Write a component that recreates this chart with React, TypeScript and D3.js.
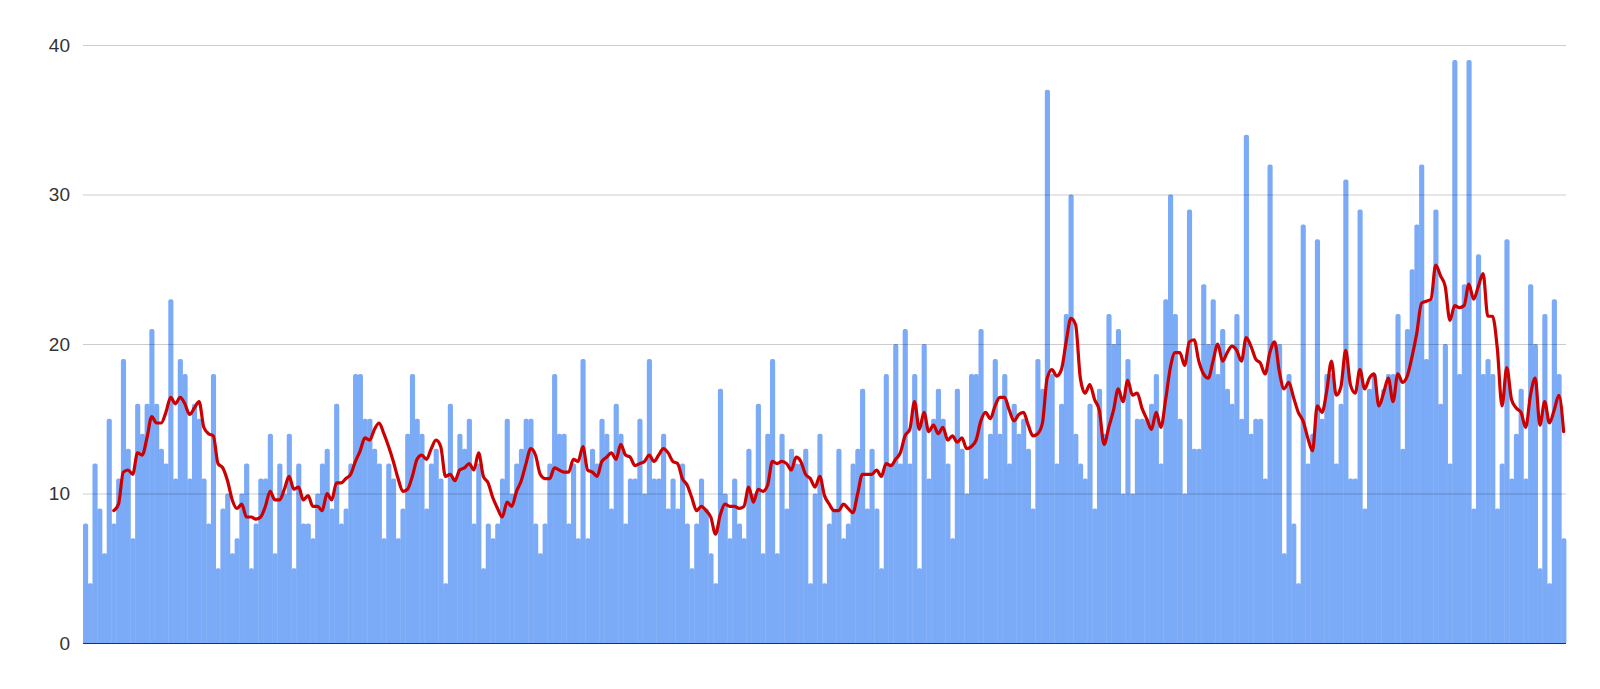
import { useEffect, useRef } from "react";
import * as d3 from "d3";

// daily values left to right
const dailyCounts = [
  8, 4, 12, 9, 6, 15, 8, 11, 19, 13, 7, 16, 14, 16, 21, 16, 13, 12, 23, 11,
  19, 18, 11, 16, 15, 11, 8, 18, 5, 9, 10, 6, 7, 10, 12, 5, 8, 11, 11, 14,
  6, 12, 10, 14, 5, 12, 8, 8, 7, 10, 12, 13, 9, 16, 8, 9, 12, 18, 18, 15,
  15, 13, 12, 7, 12, 11, 7, 9, 14, 18, 15, 14, 9, 12, 13, 11, 4, 16, 11,
  14, 13, 15, 8, 12, 5, 8, 7, 8, 11, 15, 10, 12, 13, 15, 15, 8, 6, 8, 12,
  18, 14, 14, 8, 12, 7, 19, 7, 13, 12, 15, 14, 9, 16, 14, 8, 11, 11, 15,
  10, 19, 11, 11, 14, 9, 11, 9, 12, 8, 5, 8, 11, 9, 6, 4, 17, 10, 7, 11,
  8, 7, 13, 10, 16, 6, 14, 19, 6, 14, 9, 13, 12, 12, 13, 4, 10, 14, 4,
  8, 9, 13, 7, 8, 12, 13, 17, 9, 13, 9, 5, 18, 12, 20, 12, 21, 12, 18, 5,
  20, 11, 15, 17, 15, 12, 7, 17, 13, 10, 18, 18, 21, 11, 14, 19, 14, 18, 12,
  16, 14, 15, 13, 9, 19, 17, 37, 18, 12, 16, 22, 30, 14, 12, 11, 16, 9, 17, 14,
  22, 20, 21, 10, 19, 10, 15, 15, 15, 16, 18, 12, 23, 30, 22, 15, 10, 29,
  13, 13, 24, 20, 23, 18, 21, 17, 16, 22, 15, 34, 14, 15, 15, 11, 32, 20, 20, 6,
  18, 8, 4, 28, 12, 14, 27, 15, 18, 18, 12, 16, 31, 11, 11, 29, 9, 17, 18,
  16, 17, 18, 18, 22, 13, 21, 25, 28, 32, 19, 23, 29, 16, 20, 12, 39, 18, 24, 39,
  9, 26, 18, 19, 18, 9, 12, 27, 11, 14, 17, 11, 24, 20, 5, 22, 4, 23, 18, 7,
];
const days = dailyCounts.map((_, i) => i);
const yTicks = [0, 10, 20, 30, 40];
const trendPeriod = 7; // moving average trendline

const width = 1600;
const height = 689;
const margin = { top: 45, right: 34, bottom: 46, left: 83 };

function GridAxis({ scale, innerWidth }) {
  const ref = useRef(null);

  useEffect(() => {
    if (!ref.current) return;
    const g = d3.select(ref.current);
    g.call(
      d3.axisLeft(scale).tickValues(yTicks).tickSize(-innerWidth).tickPadding(13)
    );
    g.select(".domain").remove();
    g.selectAll(".tick line")
      .attr("stroke", "#000")
      .attr("stroke-opacity", (d) => (d === 0 ? 0 : 0.2));
    g.selectAll(".tick text")
      .attr("fill", "#333")
      .attr("font-size", 19)
      .attr("font-family", "'Liberation Sans', Arial, sans-serif");
  }, [scale, innerWidth]);

  return <g ref={ref} />;
}

function barPath(x, w, top, base) {
  const r = Math.min(2, w / 2, base - top);
  return `M${x},${base}V${top + r}Q${x},${top} ${x + r},${top}H${x + w - r}Q${x + w},${top} ${x + w},${top + r}V${base}Z`;
}

export default function App() {
  const innerWidth = width - margin.left - margin.right;
  const innerHeight = height - margin.top - margin.bottom;

  const x = d3.scaleBand().domain(days).range([0, innerWidth]).padding(0);
  const y = d3.scaleLinear().domain([0, 40]).range([innerHeight, 0]);
  const bw = x.bandwidth();

  const trend = days
    .filter((i) => i >= trendPeriod - 1)
    .map((i) => ({
      day: i,
      value: d3.mean(dailyCounts.slice(i - trendPeriod + 1, i + 1)),
    }));

  const line = d3
    .line()
    .x((d) => x(d.day) + bw / 2)
    .y((d) => y(d.value))
    .curve(d3.curveMonotoneX);

  return (
    <svg
      width={width}
      height={height}
      style={{ position: "absolute", left: 0, top: 0, background: "#fff" }}
    >
      <g transform={`translate(${margin.left}, ${margin.top})`}>
        {dailyCounts.map((v, i) => (
          <path
            key={i}
            d={barPath(x(i), bw + 0.4, y(v), innerHeight)}
            fill="#7baaf7"
          />
        ))}
        <GridAxis scale={y} innerWidth={innerWidth} />
        <line
          x1={0}
          x2={innerWidth}
          y1={innerHeight + 0.5}
          y2={innerHeight + 0.5}
          stroke="#14336b"
          strokeWidth={1.2}
        />
        <path
          d={line(trend)}
          fill="none"
          stroke="#cc0000"
          strokeWidth={3.2}
          strokeLinejoin="round"
          strokeLinecap="round"
        />
      </g>
    </svg>
  );
}
